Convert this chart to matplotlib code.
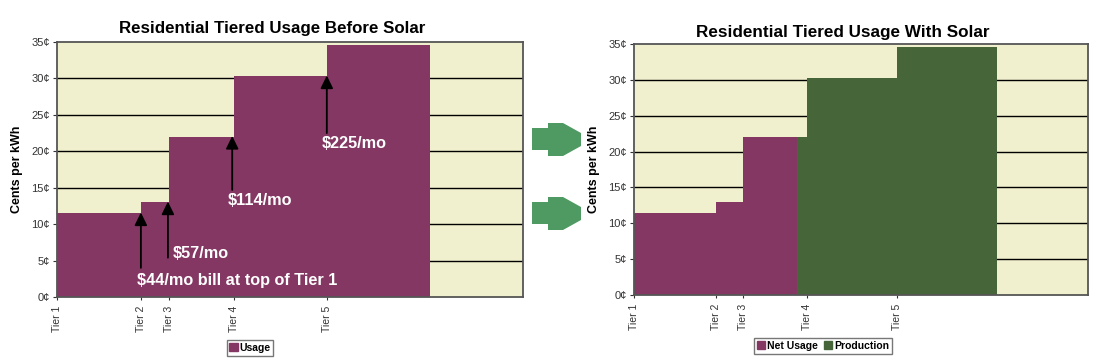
import matplotlib.pyplot as plt
from matplotlib.patches import Polygon, Patch
import numpy as np

plt.rcParams['font.family'] = ['Liberation Sans', 'DejaVu Sans']

# data
tiers = ['Tier 1', 'Tier 2', 'Tier 3', 'Tier 4', 'Tier 5']
tier_start = [0, 18, 24, 38, 58]   # usage where each tier begins
usage_end = 80                     # total monthly usage
rates = [11.5, 13.0, 22.0, 30.3, 34.6]  # cents per kWh
solar_start = 36                   # usage offset by solar from here on
x_max = 100
y_ticks = [0, 5, 10, 15, 20, 25, 30, 35]
y_ticklabels = ['%d¢' % v for v in y_ticks]

purple = '#843762'
green = '#46663A'
bg = '#F1F0CE'

fig = plt.figure(figsize=(11.02, 3.61), dpi=100)
W, H = 1102, 361


def px_axes(l, t, r, b):
    return fig.add_axes([l / W, 1 - b / H, (r - l) / W, (b - t) / H])


def style(ax):
    ax.set_facecolor(bg)
    ax.set_xlim(0, x_max)
    ax.set_ylim(0, 35)
    ax.set_yticks(y_ticks)
    ax.set_yticklabels(y_ticklabels, fontsize=8, color='#333333')
    ax.set_xticks(tier_start)
    ax.set_xticklabels(tiers, rotation=90, fontsize=7.5, color='#333333', va='top')
    ax.tick_params(axis='y', length=3, width=0.8, color='#333333', pad=2)
    ax.tick_params(axis='x', length=2, width=0.8, color='#333333', pad=4)
    for s in ax.spines.values():
        s.set_color('#555555')
        s.set_linewidth(1.3)
    for v in y_ticks[1:-1]:
        ax.axhline(v, color='black', lw=1.0, zorder=0.5)
    ax.set_ylabel('Cents per kWh', fontsize=9, fontweight='bold', labelpad=6)


xs = tier_start + [usage_end]
ys = rates + [rates[-1]]

# ---- left chart: before solar
ax1 = px_axes(57, 42, 523, 297)
style(ax1)
ax1.fill_between(xs, ys, step='post', color=purple, lw=0, zorder=2)

arrows = [(18, 4.0, 11.6), (23.8, 5.4, 13.1), (37.6, 14.7, 22.1), (57.9, 22.5, 30.4)]
for x, y0, y1 in arrows:
    ax1.annotate('', xy=(x, y1), xytext=(x, y0),
                 arrowprops=dict(arrowstyle='-|>,head_length=0.55,head_width=0.27',
                                 color='black', lw=1.3,
                                 mutation_scale=14, shrinkA=0, shrinkB=0),
                 zorder=4)
labels = [(17.2, 2.3, '$44/mo bill at top of Tier 1'), (24.9, 6.0, '$57/mo'),
          (36.7, 13.2, '$114/mo'), (56.9, 21.1, '$225/mo')]
for x, y, t in labels:
    ax1.text(x, y, t, color='white', fontsize=11.7, fontweight='bold',
             va='center', ha='left', zorder=5)

fig.text(272 / W, 1 - 29 / H, 'Residential Tiered Usage Before Solar',
         ha='center', va='center', fontsize=12.2, fontweight='bold')
fig.legend(handles=[Patch(color=purple, label='Usage')], loc='center',
           bbox_to_anchor=(250 / W, 1 - 348 / H), frameon=True,
           fancybox=False, edgecolor='#555555', handlelength=0.8, handleheight=0.8,
           handletextpad=0.2, borderpad=0.25, prop={'weight': 'bold', 'size': 7.5})

# ---- right chart: with solar
ax2 = px_axes(634, 44, 1088, 295)
style(ax2)
x_net = [x for x in xs if x < solar_start] + [solar_start]
y_net = [ys[i] for i, x in enumerate(xs) if x < solar_start]
y_net = y_net + [y_net[-1]]
k = len([x for x in xs if x <= solar_start])
x_prod = [solar_start] + [x for x in xs if x > solar_start]
y_prod = [ys[k - 1]] + [ys[i] for i, x in enumerate(xs) if x > solar_start]
ax2.fill_between(x_net, y_net, step='post', color=purple, lw=0, zorder=2)
ax2.fill_between(x_prod, y_prod, step='post', color=green, lw=0, zorder=2)

fig.text(843 / W, 1 - 32 / H, 'Residential Tiered Usage With Solar',
         ha='center', va='center', fontsize=12.3, fontweight='bold')
fig.legend(handles=[Patch(color=purple, label='Net Usage'),
                    Patch(color=green, label='Production')], loc='center', ncol=2,
           bbox_to_anchor=(823 / W, 1 - 346 / H), frameon=True, fancybox=False,
           edgecolor='#555555', handlelength=0.8, handleheight=0.8,
           handletextpad=0.2, columnspacing=0.6, borderpad=0.25,
           prop={'weight': 'bold', 'size': 7.5})

# green arrows between charts
def block_arrow(x0, y0):
    pts = [(0, 5), (16, 5), (16, 0), (31, 0), (49, 10), (49, 23), (31, 33),
           (16, 33), (16, 27), (0, 27)]
    pts = [((x0 + px) / W, 1 - (y0 + py) / H) for px, py in pts]
    fig.add_artist(Polygon(pts, closed=True, color='#4E9A62', lw=0,
                           transform=fig.transFigure))


block_arrow(532, 123)
block_arrow(532, 197)

fig.savefig('out.png', dpi=100)
